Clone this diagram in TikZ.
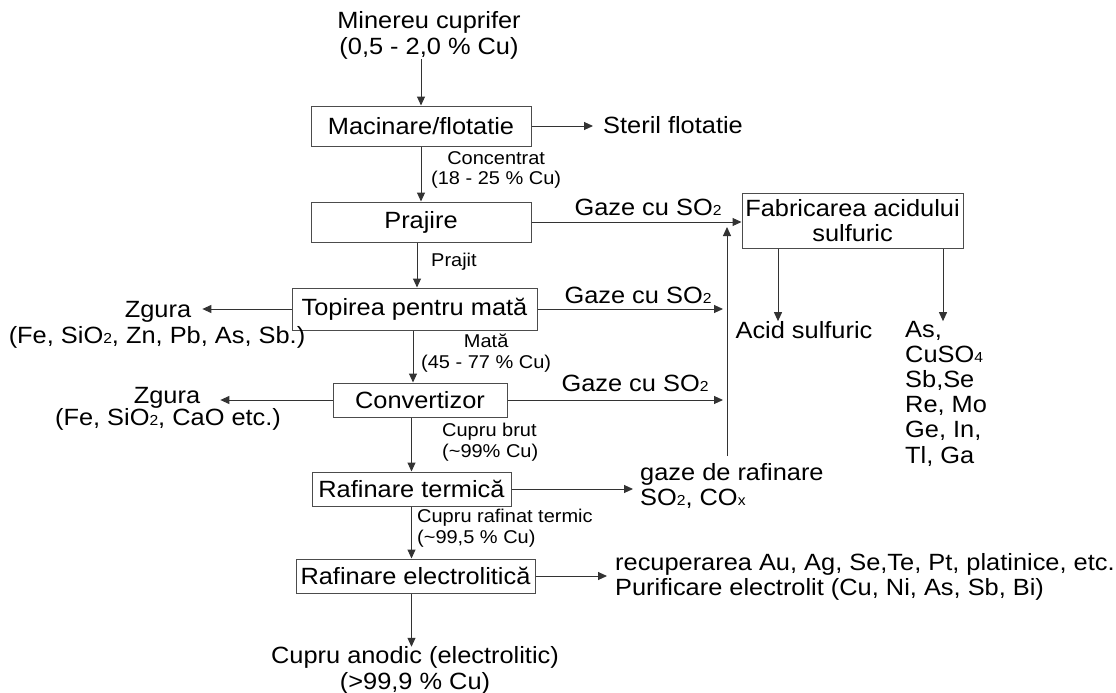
\documentclass[tikz,border=0pt]{standalone}
\usepackage{fontspec}
\setmainfont{Liberation Sans}[FakeStretch=1.08]
\usetikzlibrary{arrows.meta,calc}
\newcommand\bigf{\fontsize{23.5}{25.2}\selectfont}
\newcommand\smallf{\fontsize{18.5}{20.7}\selectfont}
\newcommand\sdig[1]{{\fontsize{14.5}{14.5}\selectfont #1}}
\tikzset{
  box/.style={draw=black!70, line width=1pt, inner sep=0pt, font=\bigf, align=center},
  txt/.style={inner sep=0pt, font=\bigf},
  lbl/.style={inner sep=0pt, font=\smallf},
  arr/.style={-{Triangle[length=9pt,width=8pt]}, line width=1pt, draw=black!80},
}
\begin{document}
\begin{tikzpicture}[x=1pt,y=-1pt]
\useasboundingbox (0,0) rectangle (1116,693);
% process boxes
\node[box, minimum width=220, minimum height=40] (mac) at (421,126) {Macinare/flotatie};
\node[box, minimum width=220, minimum height=40] (pra) at (421,222) {Prajire};
\node[box, minimum width=245, minimum height=42] (top) at (414.5,309) {Topirea pentru mată};
\node[box, minimum width=174, minimum height=34] (con) at (420,400) {Convertizor};
\node[box, minimum width=199, minimum height=34] (rt) at (411.5,489) {Rafinare termică};
\node[box, minimum width=239, minimum height=34] (re) at (415.5,576) {Rafinare electrolitică};
\node[box, minimum width=221, minimum height=55] (fab) at (852.5,220.5) {Fabricarea acidului\\sulfuric};
% texts
\node[txt, align=center] (min) at (429,35.5) {Minereu cuprifer\\(0,5 - 2,0 \% Cu)};
\node[txt, anchor=west] (ster) at (603,125) {Steril flotatie};
\node[lbl, align=center, anchor=west] (conc) at (431,170) {Concentrat\\(18 - 25 \% Cu)};
\node[lbl, anchor=west] (praj) at (431,262) {Prajit};
\node[lbl, align=center, anchor=west] (mata) at (421,353) {Mată\\(45 - 77 \% Cu)};
\node[lbl, align=left, anchor=west] (brut) at (442,442.5) {Cupru brut\\(\textasciitilde99\% Cu)};
\node[lbl, align=left, anchor=west] (rtl) at (417,528.5) {Cupru rafinat termic\\(\textasciitilde99,5 \% Cu)};
\node[txt] (g1) at (648,207) {Gaze cu SO\sdig{2}};
\node[txt] (g2) at (638,295) {Gaze cu SO\sdig{2}};
\node[txt] (g3) at (635,383) {Gaze cu SO\sdig{2}};
\node[txt] (zg1) at (158,312) {Zgura};
\node[txt] (zg1b) at (157,337) {(Fe, SiO\sdig{2}, Zn, Pb, As, Sb.)};
\node[txt] (zg2) at (167,398) {Zgura};
\node[txt] (zg2b) at (168,419) {(Fe, SiO\sdig{2}, CaO etc.)};
\node[txt] (acid) at (804,330) {Acid sulfuric};
\node[txt, align=left, anchor=west] (lst) at (905,393.5) {As,\\CuSO\sdig{4}\\Sb,Se\\Re, Mo\\Ge, In,\\Tl, Ga};
\node[txt, align=left, anchor=west] (gz) at (640,486) {gaze de rafinare\\SO\sdig{2}, CO\sdig{x}};
\node[txt, align=left, anchor=west] (rec) at (615,577) {recuperarea Au, Ag, Se,Te, Pt, platinice, etc.\\Purificare electrolit (Cu, Ni, As, Sb, Bi)};
\node[txt, align=center] (anod) at (415,670.5) {Cupru anodic (electrolitic)\\(>99,9 \% Cu)};
% collector line
\coordinate (vb) at (727,456);
\coordinate (vt) at (727,227);
% main chain
\draw[arr] (mac.north |- min.south) -- (mac.north);
\draw[arr] (mac.south) -- (pra.north);
\draw[arr] ([xshift=-4pt]pra.south) -- ([xshift=-4pt]pra.south |- top.north);
\draw[arr] ([xshift=-1.5pt]top.south) -- ([xshift=-1.5pt]top.south |- con.north);
\draw[arr] (rt.north |- con.south) -- (rt.north);
\draw[arr] (rt.south) -- (rt.south |- re.north);
\draw[arr] (re.south -| rt.south) -- (anod.north -| rt.south);
% side streams
\draw[arr, shorten >=10pt] (mac.east) -- (mac.east -| ster.west);
\draw[arr] (pra.east) -- (pra.east -| fab.west);
\draw[arr, shorten >=4pt] (top.east) -- (top.east -| vb);
\draw[arr, shorten >=4pt] (con.east) -- (con.east -| vb);
\draw[arr] (vb) -- (vt);
\draw[arr, shorten >=11pt] (top.west) -- (top.west -| zg1.east);
\draw[arr, shorten >=20pt] (con.west) -- (con.west -| zg2.east);
\draw[arr, shorten >=7pt] (rt.east) -- (rt.east -| gz.west);
\draw[arr, shorten >=8pt] (re.east) -- (re.east -| rec.west);
\draw[arr] ([xshift=-74.5pt]fab.south) -- ([xshift=-74.5pt]fab.south |- acid.north);
\draw[arr] ([xshift=90.5pt]fab.south) -- ([xshift=90.5pt]fab.south |- acid.north);
\end{tikzpicture}
\end{document}
